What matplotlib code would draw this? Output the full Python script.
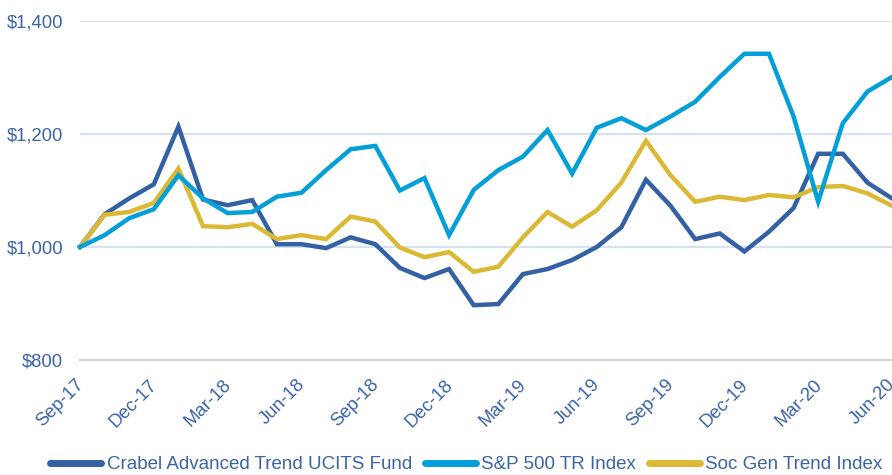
import matplotlib
matplotlib.use("Agg")
import matplotlib.pyplot as plt
import matplotlib.transforms as mtransforms
import numpy as np

months = ["Sep-17", "Oct-17", "Nov-17", "Dec-17", "Jan-18", "Feb-18", "Mar-18", "Apr-18",
          "May-18", "Jun-18", "Jul-18", "Aug-18", "Sep-18", "Oct-18", "Nov-18", "Dec-18",
          "Jan-19", "Feb-19", "Mar-19", "Apr-19", "May-19", "Jun-19", "Jul-19", "Aug-19",
          "Sep-19", "Oct-19", "Nov-19", "Dec-19", "Jan-20", "Feb-20", "Mar-20", "Apr-20",
          "May-20", "Jun-20"]

crabel = [1000, 1058, 1086, 1111, 1213, 1084, 1074, 1083, 1005, 1005, 998, 1017,
          1005, 963, 945, 961, 897, 899, 952, 961, 977, 1000, 1035, 1119,
          1073, 1014, 1024, 992, 1027, 1069, 1165, 1165, 1114, 1086]
sp500 = [1000, 1021, 1051, 1067, 1127, 1086, 1060, 1062, 1089, 1096, 1136, 1173,
         1179, 1100, 1122, 1021, 1101, 1136, 1160, 1207, 1130, 1211, 1228, 1207,
         1231, 1257, 1301, 1342, 1342, 1231, 1080, 1219, 1275, 1301]
socgen = [1000, 1057, 1062, 1078, 1139, 1037, 1035, 1041, 1014, 1021, 1014, 1054,
          1045, 999, 982, 991, 956, 965, 1017, 1062, 1036, 1065, 1114, 1188,
          1127, 1080, 1089, 1083, 1092, 1088, 1106, 1108, 1095, 1073]

series = [
    ("Crabel Advanced Trend UCITS Fund", crabel, "#3461A3", 2),
    ("S&P 500 TR Index", sp500, "#029FD8", 4),
    ("Soc Gen Trend Index", socgen, "#DCB935", 3),
]

plt.rcParams["font.family"] = ["Liberation Sans", "DejaVu Sans"]
label_color = "#3A63A8"

fig = plt.figure(figsize=(8.92, 4.75), dpi=100)
ax = fig.add_axes([80 / 892, 1 - 360 / 475, 1 - 80 / 892, (360 - 21) / 475])

x = np.arange(len(months))
handles = []
for name, vals, color, z in series:
    (h,) = ax.plot(x, vals, color=color, linewidth=3.2, label=name, zorder=z,
                   solid_joinstyle="miter", clip_on=False)
    handles.append(h)

ax.set_xlim(0, len(months) - 1)
ax.set_ylim(800, 1400)
ax.set_yticks([800, 1000, 1200, 1400])
ax.set_yticklabels(["$800", "$1,000", "$1,200", "$1,400"])
ax.yaxis.grid(True, color="#D6E2F3", linewidth=1.5)
ax.set_axisbelow(True)

ticks = x[::3]
ax.set_xticks(ticks)
ax.set_xticklabels([months[i] for i in ticks], rotation=45, ha="right", va="top",
                   rotation_mode="anchor")
ax.tick_params(axis="both", length=0, labelsize=13.3, labelcolor=label_color)
ax.tick_params(axis="y", pad=12)
ax.tick_params(axis="x", pad=6)

# nudge the rotated labels a little left and down
shift = mtransforms.ScaledTranslation(-5 / 100, -8 / 100, fig.dpi_scale_trans)
for lbl in ax.get_xticklabels():
    lbl.set_transform(lbl.get_transform() + shift)

for s in ["top", "right", "left"]:
    ax.spines[s].set_visible(False)
ax.spines["bottom"].set_color("#D3D3D3")
ax.spines["bottom"].set_linewidth(1.5)

leg = fig.legend(handles=handles, loc="center", bbox_to_anchor=(0.523, 0.022), ncol=3,
                 frameon=False, fontsize=13.5, handlelength=2.7, handletextpad=0.3,
                 columnspacing=0.7, labelcolor=label_color)
for lh in leg.legend_handles:
    lh.set_linewidth(5)
    lh.set_solid_capstyle("round")

fig.savefig("out.png", dpi=100)
